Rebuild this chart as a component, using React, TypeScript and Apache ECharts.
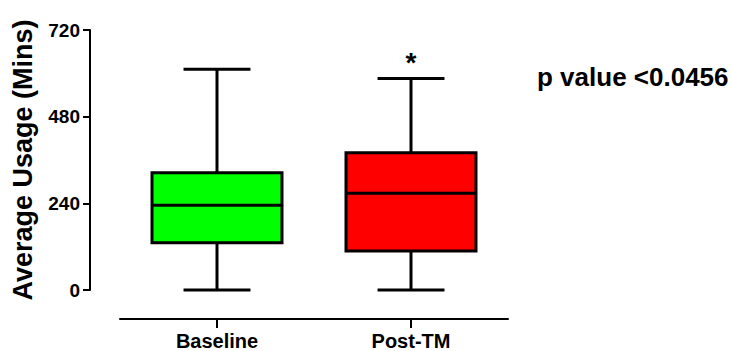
import React, { useEffect, useRef } from "react";
import * as echarts from "echarts";

const categories = ["Baseline", "Post-TM"];
const minValues = [0, 0];
const q1Values = [131, 108];
const medianValues = [235, 268];
const q3Values = [325, 380];
const maxValues = [611, 586];
const boxColors = ["#00FF00", "#FF0000"];
const significance = ["", "*"];
const yAxisTitle = "Average Usage (Mins)";
const pValueText = "p value <0.0456";

const FONT = "'Liberation Sans', Arial, Helvetica, sans-serif";

export default function App() {
  const ref = useRef<HTMLDivElement>(null);

  useEffect(() => {
    if (!ref.current) return;
    const chart = echarts.init(ref.current, undefined, { renderer: "svg" });
    const data = categories.map((_, i) => [
      i,
      minValues[i],
      q1Values[i],
      medianValues[i],
      q3Values[i],
      maxValues[i],
    ]);

    const renderItem = (params: any, api: any) => {
      const idx = api.value(0);
      const x = api.coord([idx, 0])[0];
      const band = api.size([1, 0])[0];
      const boxW = band * 0.67;
      const capW = band * 0.345;
      const yMin = api.coord([idx, api.value(1)])[1];
      const yQ1 = api.coord([idx, api.value(2)])[1];
      const yMed = api.coord([idx, api.value(3)])[1];
      const yQ3 = api.coord([idx, api.value(4)])[1];
      const yMax = api.coord([idx, api.value(5)])[1];
      const lineStyle = { stroke: "#000", lineWidth: 3 };
      const children: any[] = [
        { type: "line", shape: { x1: x, y1: yQ3, x2: x, y2: yMax }, style: lineStyle },
        { type: "line", shape: { x1: x, y1: yQ1, x2: x, y2: yMin }, style: lineStyle },
        { type: "line", shape: { x1: x - capW / 2, y1: yMax, x2: x + capW / 2, y2: yMax }, style: lineStyle },
        { type: "line", shape: { x1: x - capW / 2, y1: yMin, x2: x + capW / 2, y2: yMin }, style: lineStyle },
        {
          type: "rect",
          shape: { x: x - boxW / 2, y: yQ3, width: boxW, height: yQ1 - yQ3 },
          style: { fill: boxColors[idx], stroke: "#000", lineWidth: 3 },
        },
        { type: "line", shape: { x1: x - boxW / 2, y1: yMed, x2: x + boxW / 2, y2: yMed }, style: lineStyle },
      ];
      if (significance[idx]) {
        children.push({
          type: "text",
          style: {
            text: significance[idx],
            x: x,
            y: yMax - 16,
            align: "center",
            verticalAlign: "middle",
            fill: "#000",
            fontSize: 28,
            fontWeight: "bold",
            fontFamily: FONT,
          },
        });
      }
      return { type: "group", children };
    };

    chart.setOption({
      animation: false,
      backgroundColor: "#fff",
      grid: { left: 120, right: 223, top: 30, bottom: 61, containLabel: false },
      xAxis: {
        type: "category",
        data: categories,
        boundaryGap: true,
        offset: 29,
        axisLine: { show: true, onZero: false, lineStyle: { color: "#000", width: 2 } },
        axisTick: { show: true, alignWithLabel: true, length: 9, lineStyle: { color: "#000", width: 2 } },
        axisLabel: { color: "#000", fontSize: 20, fontWeight: "bold", fontFamily: FONT, margin: 12 },
        splitLine: { show: false },
      },
      yAxis: {
        type: "value",
        min: 0,
        max: 720,
        interval: 240,
        offset: 30,
        name: yAxisTitle,
        nameLocation: "middle",
        nameGap: 54,
        nameTextStyle: { color: "#000", fontSize: 27, fontWeight: "bold", fontFamily: FONT },
        axisLine: { show: true, onZero: false, lineStyle: { color: "#000", width: 2 } },
        axisTick: { show: true, length: 7, lineStyle: { color: "#000", width: 2 } },
        axisLabel: { color: "#000", fontSize: 19, fontWeight: "bold", fontFamily: FONT, margin: 10 },
        splitLine: { show: false },
      },
      graphic: [
        {
          type: "text",
          left: 537,
          top: 64,
          style: {
            text: pValueText,
            fill: "#000",
            fontSize: 26,
            fontWeight: "bold",
            fontFamily: FONT,
          },
        },
      ],
      series: [
        {
          type: "custom",
          renderItem,
          data,
          encode: { x: 0, y: [1, 2, 3, 4, 5] },
          clip: false,
          silent: true,
        },
      ],
    });
    return () => chart.dispose();
  }, []);

  return (
    <div
      ref={ref}
      style={{ position: "fixed", left: 0, top: 0, width: 731, height: 351, background: "#fff" }}
    />
  );
}
